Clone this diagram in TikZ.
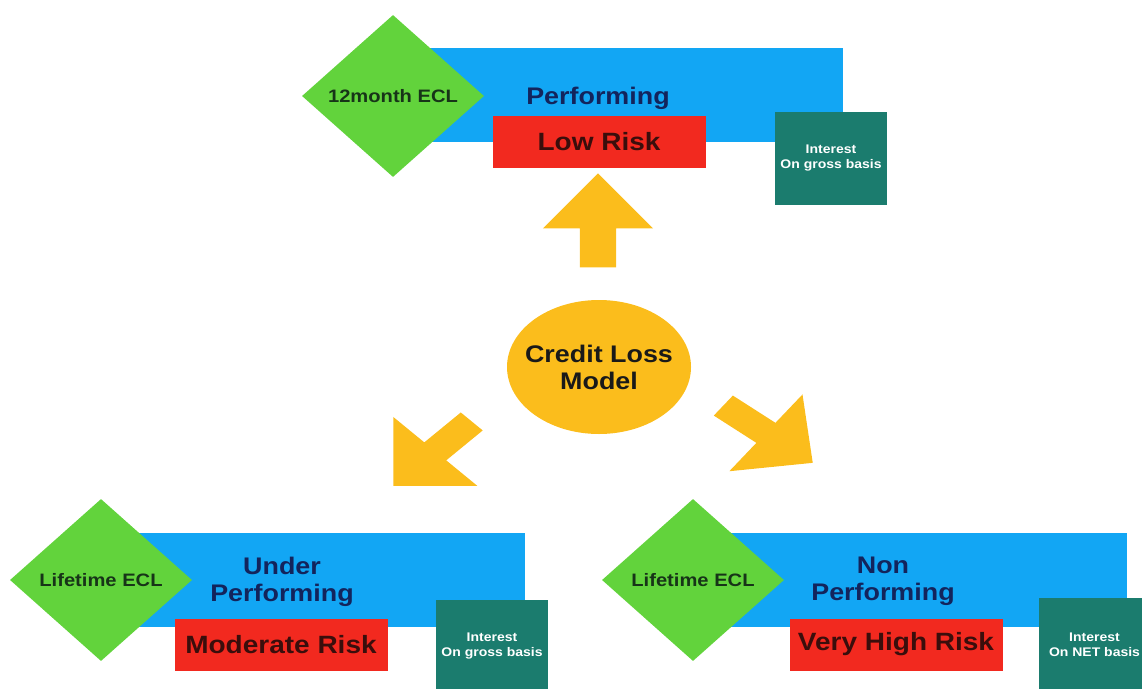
\documentclass[tikz,border=0pt]{standalone}
\usepackage{fontspec}
\setmainfont{Liberation Sans}[FakeStretch=1.12]
\usepackage{tikz}
\usetikzlibrary{shapes.geometric, shapes.arrows}
\definecolor{bandblue}{HTML}{12A6F4}
\definecolor{eclgreen}{HTML}{62D33C}
\definecolor{riskred}{HTML}{F2291F}
\definecolor{interteal}{HTML}{1B7C6E}
\definecolor{modelyellow}{HTML}{FBBD1C}
\definecolor{navytext}{HTML}{13245C}
\definecolor{risktext}{HTML}{3A0E0C}
\definecolor{ecltext}{HTML}{173418}

\begin{document}
\begin{tikzpicture}[x=1pt, y=-1pt,
    band/.style={fill=bandblue, minimum height=94pt, inner sep=0pt, anchor=north west},
    stage/.style={text=navytext, align=center, font=\fontsize{24}{27}\selectfont\bfseries},
    ecl/.style={diamond, fill=eclgreen, minimum width=182pt, minimum height=162pt, inner sep=0pt,
      text=ecltext, font=\fontsize{18}{22}\selectfont\bfseries},
    risk/.style={fill=riskred, minimum width=213pt, minimum height=52pt, inner sep=0pt,
      text=risktext, font=\fontsize{25}{28}\selectfont\bfseries},
    interest/.style={fill=interteal, minimum width=112pt, minimum height=93pt, inner sep=0pt,
      text=white, align=center, font=\fontsize{12.5}{15}\selectfont\bfseries},
    model/.style={ellipse, fill=modelyellow, minimum width=184pt, minimum height=134pt,
      inner xsep=-9pt, inner ysep=0pt, align=center, text=black!90,
      font=\fontsize{24}{27}\selectfont\bfseries},
    blockarrow/.style={single arrow, fill=modelyellow, inner xsep=0pt, inner ysep=12.5pt,
      single arrow head extend=36pt, single arrow tip angle=90, minimum width=0pt,
      anchor=tip, transform shape}]
  \clip (0,0) rectangle (1142,688);
  % performing
  \node[band, minimum width=443pt] (topband) at (400,48) {};
  \node[ecl] (topecl) at (393,96) {12month ECL};
  \node[stage] (toptext) at (598,98) {Performing};
  \node[risk] (toprisk) at (599,142) {Low Risk};
  \node[interest] (topint) at (831,158.5) {Interest\\On gross basis};
  % under performing
  \node[band, minimum width=415pt] (leftband) at (110,533) {};
  \node[ecl] (leftecl) at (101,580) {Lifetime ECL};
  \node[stage] (lefttext) at (282,581.5) {Under\\Performing};
  \node[risk] (leftrisk) at (281,644.5) {Moderate Risk};
  \node[interest] (leftint) at (492,646.5) {Interest\\On gross basis};
  % non performing
  \node[band, minimum width=427pt] (rightband) at (700,533) {};
  \node[ecl] (rightecl) at (693,580) {Lifetime ECL};
  \node[stage] (righttext) at (883,581.5) {Non\\Performing};
  \node[risk] (rightrisk) at (896,644.5) {Very High Risk};
  \node[interest] (rightint) at (1094.5,644.5) {Interest\\On NET basis};
  % centre
  \node[model] (model) at (599,367) {Credit Loss\\Model};
  \node[blockarrow, inner ysep=18pt, single arrow head extend=37pt,
    minimum height=94pt, rotate=90] (uparrow) at (598,173) {};
  \begin{scope}[shift={(393,486)}, xscale=1.22]
    \node[blockarrow, minimum height=91pt, rotate=225] (leftarrow) at (0,0) {};
  \end{scope}
  \begin{scope}[shift={(813,463)}, xscale=1.22]
    \node[blockarrow, minimum height=93pt, rotate=-38] (rightarrow) at (0,0) {};
  \end{scope}
\end{tikzpicture}
\end{document}
